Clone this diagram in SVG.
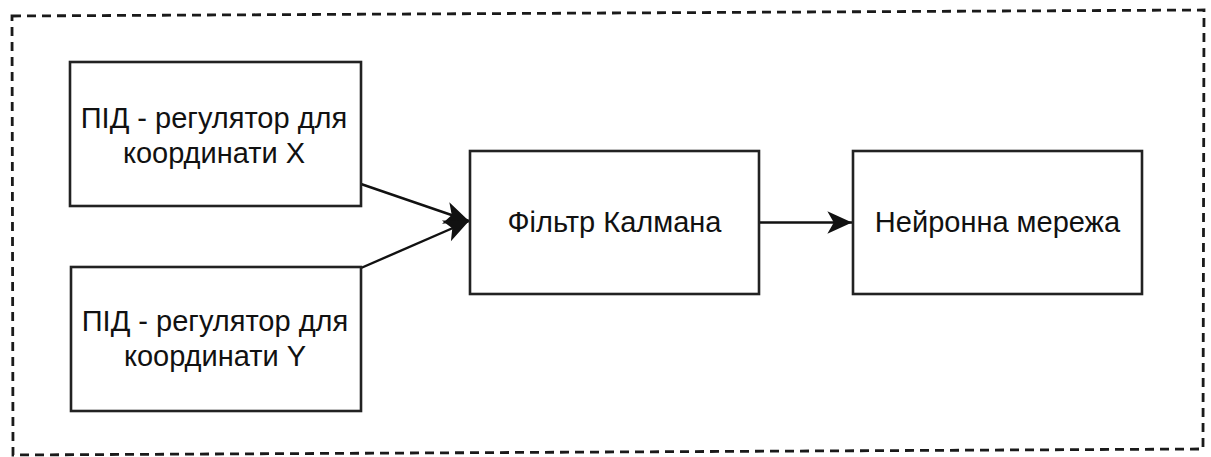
<svg xmlns="http://www.w3.org/2000/svg" width="1211" height="457" viewBox="0 0 1211 457">
  <style>
    .box { fill: #ffffff; stroke: #222222; stroke-width: 2.6; }
    .frame { fill: none; stroke: #1a1a1a; stroke-width: 2.8; stroke-dasharray: 9 6; }
    .edge { fill: none; stroke: #111111; stroke-width: 2.4; }
    .label { font-family: "Liberation Sans", Arial, sans-serif; font-size: 29px; fill: #111111; text-anchor: middle; }
  </style>
  <defs>
    <marker id="arrow" markerUnits="userSpaceOnUse" markerWidth="30" markerHeight="30" viewBox="-26 -13 28 26" refX="0" refY="0" orient="auto">
      <path d="M0,0 L-23,-10.5 L-17,0 L-23,10.5 Z" fill="#111111"/>
    </marker>
  </defs>
  <rect width="1211" height="457" fill="#ffffff"/>

  <!-- dashed system boundary -->
  <path class="frame" d="M12,16 L1204,10 L1203,449 L13,455 Z"/>

  <!-- connectors -->
  <g id="connectors">
    <path class="edge" d="M361,184 L469,221" marker-end="url(#arrow)"/>
    <path class="edge" d="M361,268 L469,221" marker-end="url(#arrow)"/>
    <path class="edge" d="M759,222.5 L852,222.5" marker-end="url(#arrow)"/>
  </g>

  <g id="pid-x">
    <rect class="box" x="70" y="62" width="291" height="144"/>
    <text class="label" x="214" y="128">ПІД - регулятор для</text>
    <text class="label" x="214" y="163">координати X</text>
  </g>

  <g id="pid-y">
    <rect class="box" x="71" y="267" width="290" height="144"/>
    <text class="label" x="215" y="331">ПІД - регулятор для</text>
    <text class="label" x="215" y="366">координати Y</text>
  </g>

  <g id="kalman">
    <rect class="box" x="470" y="151" width="289" height="143"/>
    <text class="label" x="614.5" y="232">Фільтр Калмана</text>
  </g>

  <g id="neural">
    <rect class="box" x="853" y="151" width="289" height="143"/>
    <text class="label" x="997.5" y="232">Нейронна мережа</text>
  </g>
</svg>
